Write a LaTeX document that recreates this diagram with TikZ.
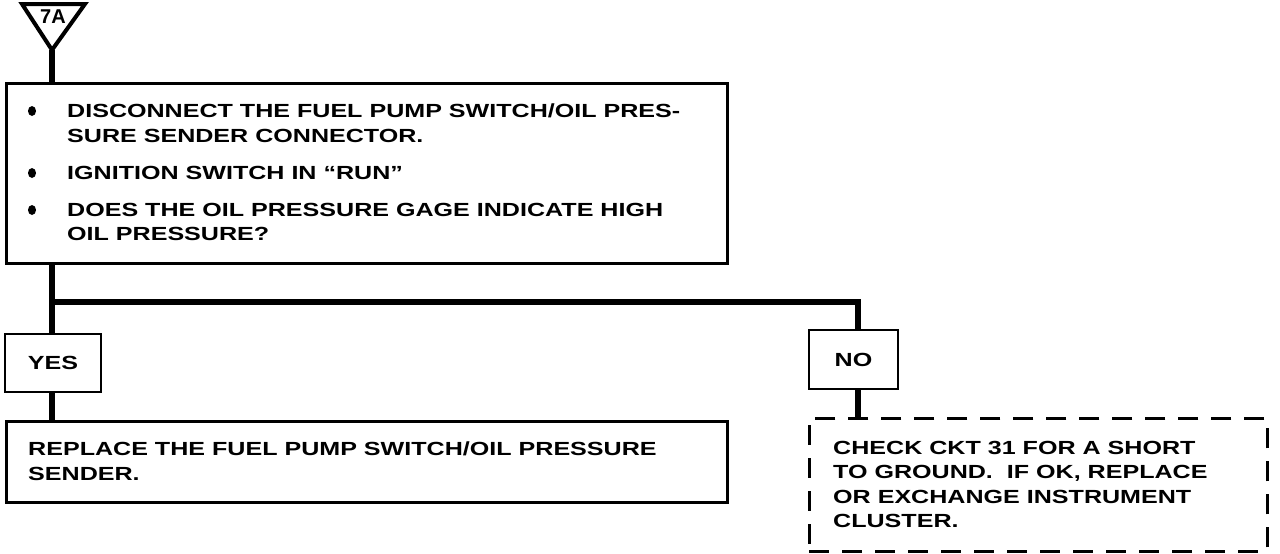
\documentclass[tikz,border=0pt]{standalone}
\usepackage{fontspec}
\usetikzlibrary{shapes.geometric}
\setmainfont{Liberation Sans}
\begin{document}
\begin{tikzpicture}[x=1pt,y=-1pt,
  box/.style={draw, line width=2.5pt, rectangle, inner sep=0pt},
  dbox/.style={draw, line width=2.5pt, rectangle, inner sep=0pt, dash pattern=on 20pt off 13pt},
  conn/.style={line width=6pt},
  txt/.style={font=\bfseries\fontsize{19}{24.5}\selectfont\addfontfeature{FakeStretch=1.32}, anchor=north west, inner sep=0pt, align=left},
  lbl/.style={font=\bfseries\fontsize{19}{24}\selectfont\addfontfeature{FakeStretch=1.32}, inner sep=0pt},
  bul/.style={ellipse, fill=black, inner sep=0pt, minimum width=8pt, minimum height=10pt}]
\useasboundingbox (0,0) rectangle (1280,554);
% entry triangle
\draw[line width=4pt, line join=miter] (22,4) -- (85,4) -- (52,50) -- cycle;
\node[font=\bfseries\fontsize{20}{20}\selectfont, inner sep=0pt] (t) at (53,17) {7A};
\coordinate (tip) at (52,50);
% boxes
\node[box, minimum width=721pt, minimum height=180pt, anchor=north west] (b1) at (5,82) {};
\node[box, minimum width=96pt, minimum height=58pt] (yes) at (53,363) {};
\node[lbl] (yest) at (yes.center) {YES};
\node[box, minimum width=721pt, minimum height=81pt, anchor=north west] (b2) at (5,420) {};
\node[box, minimum width=89pt, minimum height=59pt] (no) at (853.5,359.5) {};
\node[lbl] (not) at (no.center) {NO};
\node[dbox, minimum width=458pt, minimum height=133pt, anchor=north west] (b3) at (808,417) {};
% box 1 text
\node[bul] (u1) at (32,111) {};
\node[bul] (u2) at (32,173) {};
\node[bul] (u3) at (32,210) {};
\node[txt] (s1) at (67,104) {DISCONNECT THE FUEL PUMP SWITCH/OIL PRES-\\SURE SENDER CONNECTOR.};
\node[txt] (s2) at (67,166) {IGNITION SWITCH IN “RUN”};
\node[txt] (s3) at (67,203) {DOES THE OIL PRESSURE GAGE INDICATE HIGH\\OIL PRESSURE?};
% box 2 text
\node[txt] (r1) at (28,442) {REPLACE THE FUEL PUMP SWITCH/OIL PRESSURE\\SENDER.};
% box 3 text
\node[txt] (c1) at (833,441) {CHECK CKT 31 FOR A SHORT\\TO GROUND.\ \ IF OK, REPLACE\\OR EXCHANGE INSTRUMENT\\CLUSTER.};
% connectors
\draw[conn] (tip) -- (tip |- b1.north);
\draw[conn] (b1.south -| tip) -- (tip |- yes.north);
\coordinate (bar) at (52,302);
\coordinate (nx) at (858,302);
\draw[conn, line join=miter] (bar) -- (nx) -- (nx |- no.north);
\draw[conn] (yes.south -| tip) -- (tip |- b2.north);
\draw[conn] (no.south -| nx) -- (nx |- b3.north);
\end{tikzpicture}
\end{document}
